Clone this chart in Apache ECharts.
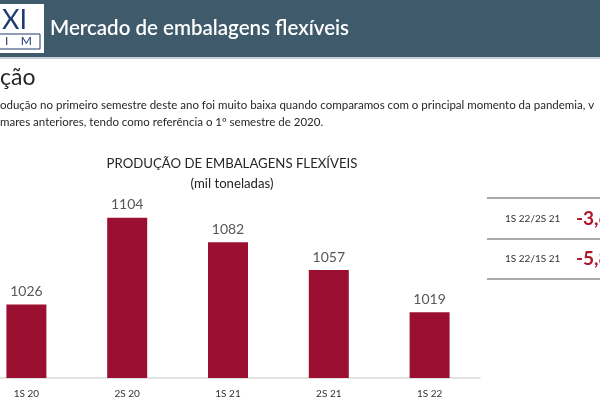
<!DOCTYPE html>
<html>
<head>
<meta charset="utf-8">
<script src="https://cdn.jsdelivr.net/npm/echarts@6/dist/echarts.min.js"></script>
<style>
  html, body { margin: 0; padding: 0; background: #fff; overflow: hidden; }
  #chart { width: 625px; height: 413px; margin-left: -25px; }
</style>
</head>
<body>
<div id="chart"></div>
<script>
  // dados do gráfico
  var categorias = ['1S 20', '2S 20', '1S 21', '2S 21', '1S 22'];
  var producao = [1026, 1104, 1082, 1057, 1019];
  var comparacoes = ['1S 22/2S 21', '1S 22/1S 21'];
  var variacoes = ['-3,6%', '-5,8%'];

  var fonte = 'Lato, "Open Sans", sans-serif';
  var OX = 25; // o div começa 25px à esquerda da janela

  var tabela = [];
  [198, 239, 279].forEach(function (y) {
    tabela.push({
      type: 'line', shape: { x1: 487 + OX, y1: y, x2: 600 + OX, y2: y },
      style: { stroke: '#8c8c8c', lineWidth: 1.5 }
    });
  });
  comparacoes.forEach(function (c, i) {
    var yc = 219 + i * 40;
    tabela.push({
      type: 'text', x: 505 + OX, y: yc,
      style: { text: c, font: '10px ' + fonte, fill: '#333', verticalAlign: 'middle' }
    });
    tabela.push({
      type: 'text', x: 576 + OX, y: yc,
      style: { text: variacoes[i], font: 'bold 19px ' + fonte, fill: '#b0182c', verticalAlign: 'middle' }
    });
  });

  var myChart = echarts.init(document.getElementById('chart'));
  var option = {
    animation: false,
    title: {
      text: 'PRODUÇÃO DE EMBALAGENS FLEXÍVEIS\n(mil toneladas)',
      left: 227 + OX,
      top: 149,
      textAlign: 'center',
      textStyle: { fontFamily: fonte, fontSize: 13.2, fontWeight: 'normal', color: '#262626', lineHeight: 20 }
    },
    grid: { left: 1, right: 120, top: 200, bottom: 35 },
    xAxis: {
      type: 'category',
      data: categorias,
      axisLine: { lineStyle: { color: '#d9d9d9', width: 1.5 } },
      axisTick: { show: false },
      axisLabel: { fontFamily: fonte, fontSize: 10, color: '#333', margin: 11 }
    },
    yAxis: {
      type: 'value',
      min: 960,
      max: 1120,
      show: false,
      splitLine: { show: false }
    },
    series: [{
      type: 'bar',
      data: producao,
      barWidth: 40,
      itemStyle: { color: '#9b1030' },
      label: {
        show: true, position: 'top', distance: 6,
        fontFamily: fonte, fontSize: 14, color: '#595959'
      }
    }],
    graphic: [
      { type: 'rect', shape: { x: 0, y: 0, width: 625, height: 57 }, style: { fill: '#3e5a6b' } },
      { type: 'line', shape: { x1: 0, y1: 58, x2: 625, y2: 58 }, style: { stroke: '#c9d1d6', lineWidth: 2 } },
      // logo
      { type: 'rect', shape: { x: 0, y: 4, width: 44 + OX, height: 49 }, style: { fill: '#fff' } },
      { type: 'text', x: 2 + OX, y: 7, style: { text: 'XI', font: '27px ' + fonte, fill: '#1f3b6e' } },
      { type: 'rect', shape: { x: 0, y: 34, width: 40 + OX, height: 15 }, style: { fill: '#fff', stroke: '#1f3b6e', lineWidth: 1 } },
      { type: 'text', x: 5 + OX, y: 35, style: { text: 'I    M', font: '12px ' + fonte, fill: '#1f3b6e' } },
      { type: 'text', x: 50 + OX, y: 18, style: { text: 'Mercado de embalagens flexíveis', font: '600 20.5px ' + fonte, fill: '#fff' } },
      { type: 'text', x: 0 + OX, y: 66, style: { text: 'ção', font: '23px ' + fonte, fill: '#262626' } },
      { type: 'text', x: 0 + OX, y: 99, style: { text: 'odução no primeiro semestre deste ano foi muito baixa quando comparamos com o principal momento da pandemia, v', font: '11.5px ' + fonte, fill: '#262626' } },
      { type: 'text', x: 0 + OX, y: 116, style: { text: 'mares anteriores, tendo como referência o 1º semestre de 2020.', font: '11.5px ' + fonte, fill: '#262626' } }
    ].concat(tabela)
  };
  myChart.setOption(option);
</script>
</body>
</html>
